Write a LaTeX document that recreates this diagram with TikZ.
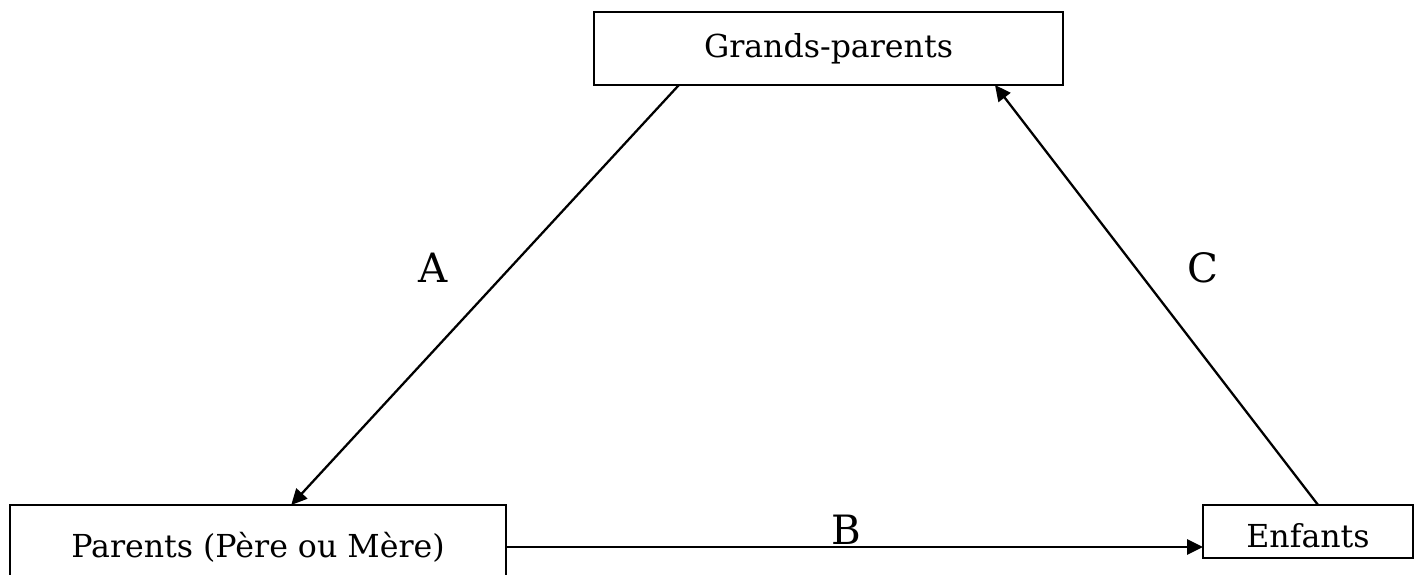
\documentclass[tikz,border=0pt]{standalone}
\usepackage{fontspec}
\setmainfont{DejaVu Serif}
\usetikzlibrary{arrows.meta,positioning,calc}

\begin{document}
\begin{tikzpicture}[x=0.02cm, y=-0.02cm, font=\fontsize{18}{21}\selectfont,
  box/.style={draw, line width=1.3pt, inner sep=0pt, outer sep=0pt},
  link/.style={line width=1.3pt, -{Triangle[length=9pt,width=8.5pt]}},
  lbl/.style={font=\fontsize{23}{27}\selectfont}]
\clip (0,0) rectangle (1421,575);
\node[box, minimum width=9.38cm, minimum height=1.46cm] (gp)  at (828.5,48.5) {Grands-parents};
\node[box, minimum width=9.92cm, minimum height=1.68cm] (par) at (258,547)    {Parents (Père ou Mère)};
\node[box, minimum width=4.2cm,  minimum height=1.06cm, text height=18pt, text depth=0pt] (enf) at (1308,531.5) {Enfants};
% liens
\draw[link] ($(gp.south west)!0.181!(gp.south east)$) -- ($(par.north west)!0.567!(par.north east)$);
\draw[link] (par.east) -- (par.east -| enf.west);
\draw[link] ($(enf.north west)!0.548!(enf.north east)$) -- ($(gp.south west)!0.855!(gp.south east)$);
\node[lbl] (la) at (433,268) {A};
\node[lbl] (lb) at (846,530) {B};
\node[lbl] (lc) at (1203,268) {C};
\end{tikzpicture}
\end{document}
